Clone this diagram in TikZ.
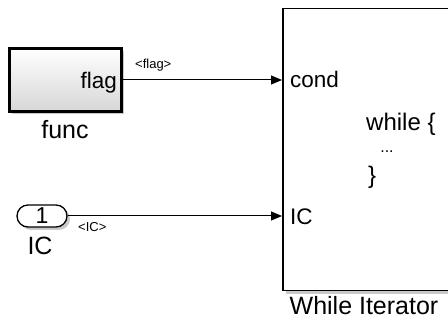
\documentclass[tikz,border=0pt]{standalone}
\usepackage{fontspec}
\setmainfont{Liberation Sans}
\usetikzlibrary{arrows.meta,shadows,shapes.misc}
\begin{document}
\begin{tikzpicture}[x=1pt,y=-1pt,
  lbl/.style={inner sep=0pt,anchor=base,font=\fontsize{25}{30}\selectfont},
  port/.style={inner sep=0pt,anchor=base west,font=\fontsize{22.5}{27}\selectfont},
  sig/.style={draw=black,line width=1pt,-{Triangle[length=11pt,width=9pt]}},
  siglbl/.style={inner sep=0pt,anchor=base west,font=\fontsize{13}{15}\selectfont},
  shd/.style={drop shadow={shadow xshift=3pt,shadow yshift=-3pt,fill=black!35,opacity=0.6}}]
\clip (0,0) rectangle (448,320);
\fill[white] (0,0) rectangle (448,320);
% func block
\node[draw,line width=3pt,minimum width=112pt,minimum height=63pt,inner sep=0pt,
      top color=white,bottom color=black!16,shd] (func) at (65,80) {};
\node[port,anchor=base east] (flag) at (117,89) {flag};
\node[lbl] (funclbl) at (65,139) {func};
% While Iterator block
\node[draw,line width=1.5pt,fill=white,minimum width=180pt,minimum height=282pt,inner sep=0pt,
      anchor=north west,shd] (wi) at (282,8) {};
\node[port] (cond) at (290,88) {cond};
\node[port] (icp) at (290,225) {IC};
\node[port,font=\fontsize{24}{28}\selectfont] (wh) at (366,131) {while \{};
\node[inner sep=0pt,font=\fontsize{16}{18}\selectfont] (dots) at (387,152) {...};
\node[port,font=\fontsize{24}{28}\selectfont] (cl) at (368,184) {\}};
\node[lbl] (wilbl) at (364,315) {While Iterator};
% IC inport
\node[draw,rounded rectangle,line width=1.3pt,fill=white,minimum width=50pt,minimum height=22pt,
      inner sep=0pt,shd,font=\fontsize{23}{27}\selectfont] (ic) at (42,216) {1};
\node[lbl] (iclbl) at (40,255) {IC};
% signals
\draw[sig] (func.east) -- (func.east -| wi.west);
\node[siglbl] (flagsig) at (135,69) {<flag>};
\draw[sig] (ic.east) -- (ic.east -| wi.west);
\node[siglbl] (icsig) at (78,232) {<IC>};
\end{tikzpicture}
\end{document}
